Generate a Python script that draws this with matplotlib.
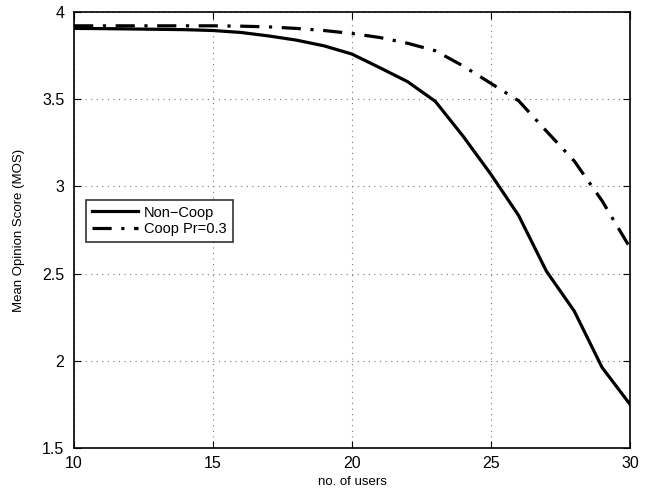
import numpy as np
import matplotlib
matplotlib.use('Agg')
from matplotlib import pyplot as plt

plt.rcParams['font.family'] = ['Liberation Sans', 'DejaVu Sans']

users = [10, 11, 12, 13, 14, 15, 16, 17, 18, 19, 20,
         21, 22, 23, 24, 25, 26, 27, 28, 29, 30]
non_coop = [3.905, 3.904, 3.902, 3.90, 3.898, 3.893, 3.882, 3.862, 3.838, 3.805, 3.758,
            3.68, 3.600, 3.487, 3.287, 3.069, 2.832, 2.513, 2.285, 1.962, 1.752]
coop = [3.92, 3.92, 3.92, 3.92, 3.92, 3.92, 3.918, 3.914, 3.905, 3.893, 3.876,
        3.853, 3.82, 3.777, 3.69, 3.59, 3.49, 3.316, 3.145, 2.917, 2.65]

fig = plt.figure(figsize=(6.5, 4.94), dpi=100)
ax = fig.add_axes([0.114, 0.093, 0.855, 0.883])

ax.plot(users, non_coop, 'k-', lw=2.3, label='Non\u2212Coop')
ax.plot(users, coop, 'k-.', lw=2.3, label='Coop Pr=0.3', dashes=(6, 3, 1, 3))

ax.set_xlim(10, 30)
ax.set_ylim(1.5, 4)
ax.set_xticks([10, 15, 20, 25, 30])
ax.set_yticks([1.5, 2, 2.5, 3, 3.5, 4])
ax.set_yticklabels(['1.5', '2', '2.5', '3', '3.5', '4'])
ax.grid(True, ls=(0, (1, 4)), color='#777777', lw=0.8)
ax.tick_params(direction='in', top=True, right=True, labelsize=11.5, length=5)
ax.tick_params(axis='x', pad=6)
ax.tick_params(axis='y', pad=7)
for s in ax.spines.values():
    s.set_linewidth(1.2)

ax.set_xlabel('no. of users', fontsize=9.5, labelpad=3)
ax.set_ylabel('Mean Opinion Score (MOS)', fontsize=9.5, labelpad=12)

leg = ax.legend(loc='lower left', bbox_to_anchor=(0.008, 0.455), fontsize=10.5,
                fancybox=False, edgecolor='k', handlelength=3.2, borderpad=0.4,
                labelspacing=0.2, handletextpad=0.4)
leg.get_frame().set_linewidth(1.2)

plt.savefig('out.png', dpi=100)
